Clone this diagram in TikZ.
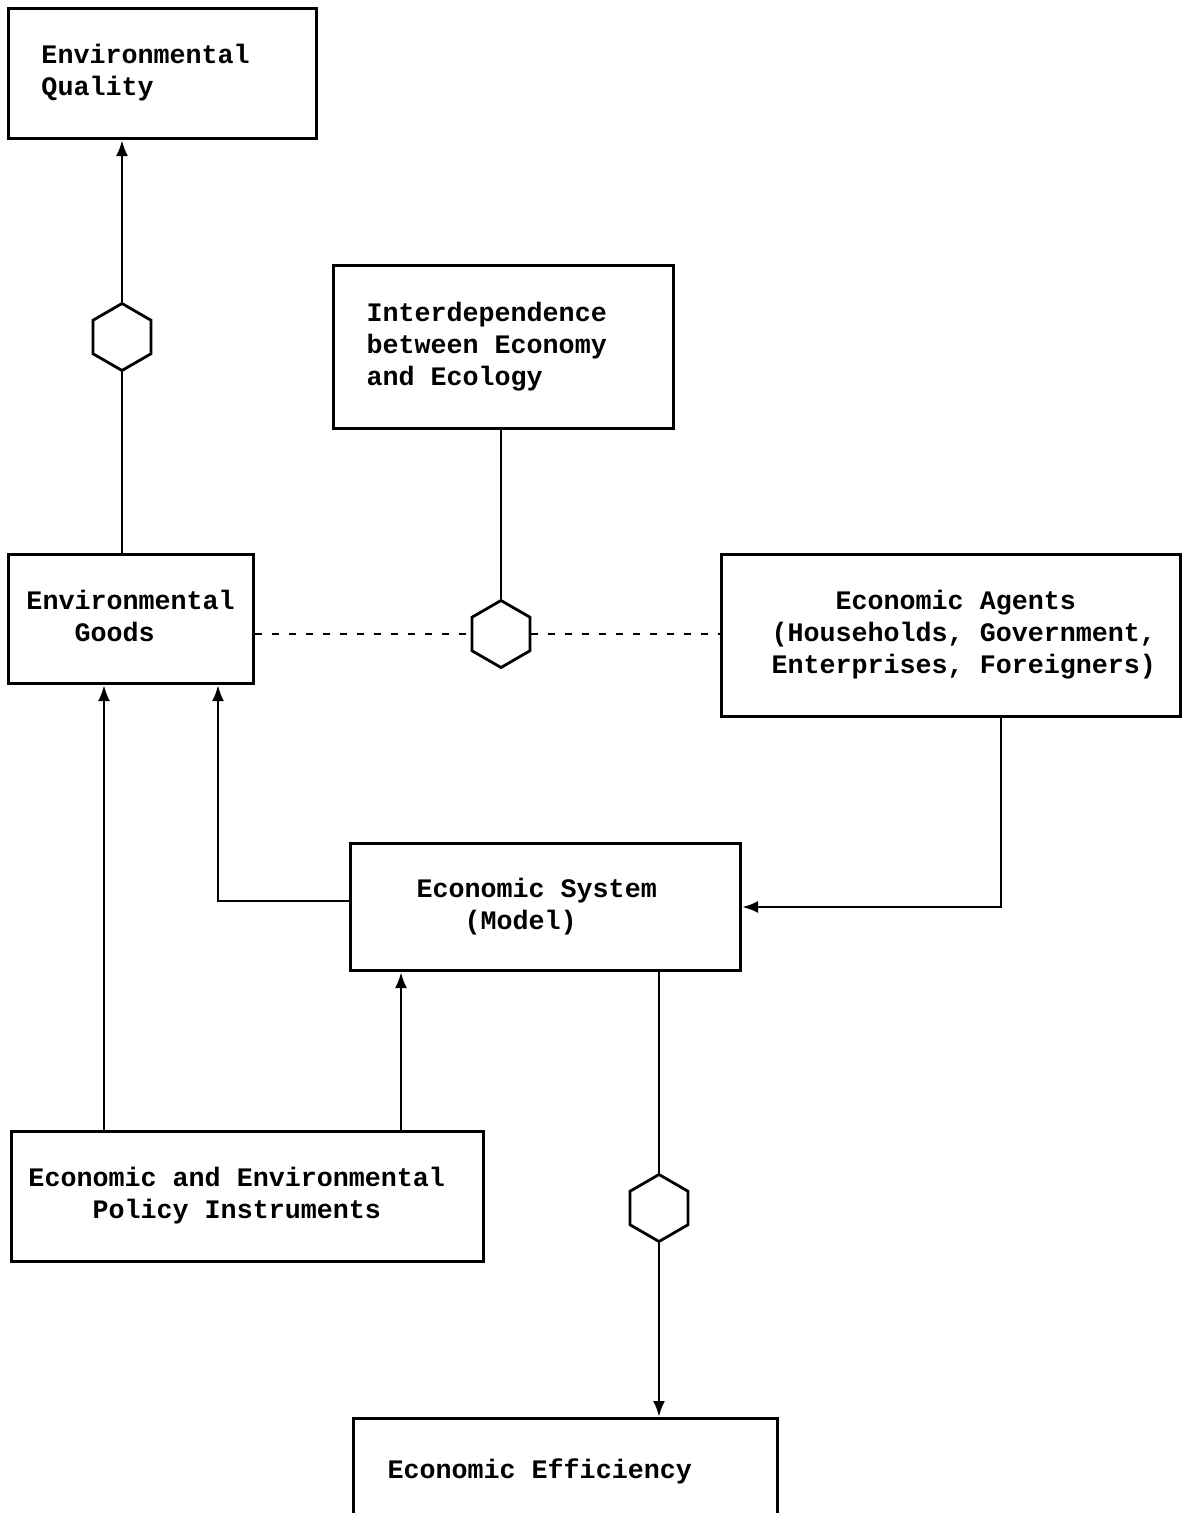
\documentclass[tikz,border=0pt]{standalone}
\usepackage{fontspec}
\setmonofont{Liberation Mono}
\usetikzlibrary{arrows.meta,shapes.geometric}
\tikzset{
  box/.style={draw, line width=3pt, anchor=north west, inner sep=0pt, align=left,
    font=\ttfamily\bfseries\fontsize{26.7}{32}\selectfont},
  hexa/.style={draw, line width=2.8pt, regular polygon, regular polygon sides=6,
    shape border rotate=90, minimum size=67pt, inner sep=0pt},
  conn/.style={line width=2.8pt},
  arr/.style={conn, -{Latex[length=16pt,width=12pt]}},
  dashline/.style={line width=2pt, dash pattern=on 7pt off 10pt}
}
\newcommand{\bxt}[2]{\spaceskip=0pt\relax\xspaceskip=0pt\relax
  \hspace*{#1pt}\begin{tabular}{@{}l@{}}#2\end{tabular}}
\begin{document}
\begin{tikzpicture}[x=1pt,y=-1pt]
\useasboundingbox (0,0) rectangle (1183,1513);
\clip (0,0) rectangle (1183,1513);
\fill[white] (0,0) rectangle (1183,1513);

\node[box, text width=308pt, minimum height=130pt] (eq) at (7,7)
  {\bxt{33}{Environmental\\Quality}};
\node[box, text width=340pt, minimum height=163pt] (inter) at (332,264)
  {\bxt{33}{Interdependence\\between Economy\\and Ecology}};
\node[box, text width=245pt, minimum height=129pt] (goods) at (7,553)
  {\bxt{18}{Environmental\\\phantom{Env}Goods}};
\node[box, text width=459pt, minimum height=162pt] (agents) at (720,553)
  {\bxt{50}{\phantom{Econ}Economic Agents\\(Households, Government,\\Enterprises, Foreigners)}};
\node[box, text width=390pt, minimum height=127pt] (sys) at (349,842)
  {\bxt{66}{Economic System\\\phantom{Eco}(Model)}};
\node[box, text width=472pt, minimum height=130pt] (pol) at (10,1130)
  {\bxt{17}{Economic and Environmental\\\phantom{Econ}Policy Instruments}};
\node[box, text width=424pt, minimum height=108pt] (eff) at (352,1417)
  {\bxt{34}{Economic Efficiency}};

\node[hexa] (h1) at (122,337) {};
\node[hexa] (h2) at (501,634) {};
\node[hexa] (h3) at (659,1208) {};

\draw[conn] (goods.north -| h1) -- (h1.south);
\draw[arr] (h1.north) -- (eq.south -| h1);
\draw[conn] (inter.south -| h2) -- (h2.north);
\draw[dashline] (goods.east |- h2) -- (h2.west);
\draw[dashline] (h2.east) -- (agents.west |- h2);
\draw[arr] ([xshift=281pt]agents.south west) |- (sys.east);
\draw[arr] ([yshift=6pt]sys.west) -| ([xshift=211pt]goods.south west);
\draw[arr] ([xshift=94pt]pol.north west) -- ([xshift=97pt]goods.south west);
\draw[arr] ([xshift=391pt]pol.north west) -- ([xshift=52pt]sys.south west);
\draw[conn] (sys.south -| h3) -- (h3.north);
\draw[arr] (h3.south) -- (eff.north -| h3);
\end{tikzpicture}
\end{document}
